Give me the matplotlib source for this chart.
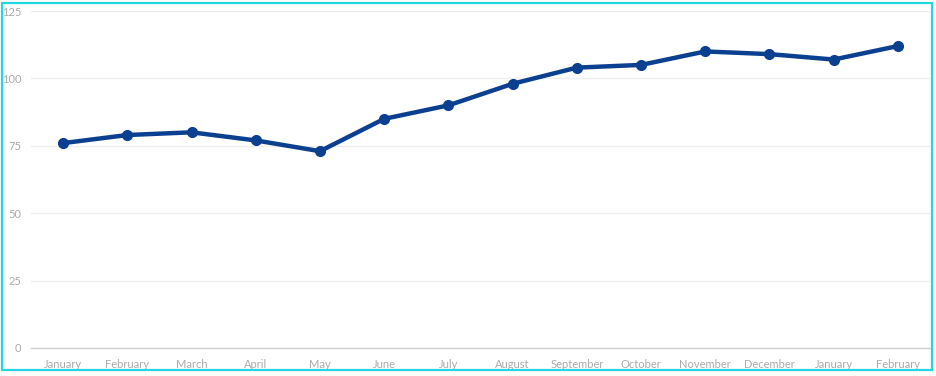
import matplotlib
matplotlib.use("Agg")
import matplotlib.pyplot as plt
from matplotlib.patches import Rectangle

# ─────────────────────────────────────────────
# DATA
# ─────────────────────────────────────────────
MONTHS = ["January", "February", "March", "April", "May", "June", "July",
          "August", "September", "October", "November", "December",
          "January", "February"]
VALUES = [76, 79, 80, 77, 73, 85, 90, 98, 104, 105, 110, 109, 107, 112]
Y_TICKS = [0, 25, 50, 75, 100, 125]

LINE_COLOR = "#0b3f8f"
TEXT_COLOR = "#a9a9a9"
BORDER_COLOR = "#22d6e2"

plt.rcParams["font.family"] = ["Lato", "DejaVu Sans"]

W, H = 937, 376
fig = plt.figure(figsize=(W / 100, H / 100), dpi=100)
ax = fig.add_axes([31 / W, 28 / H, 899 / W, 337 / H])

x = list(range(len(MONTHS)))
ax.plot(x, VALUES, color=LINE_COLOR, linewidth=3.2, marker="o",
        markersize=7, zorder=3)

ax.set_xlim(-0.5, len(MONTHS) - 0.5)
ax.set_ylim(0, 125)
ax.set_yticks(Y_TICKS)
ax.set_xticks(x)
ax.set_xticklabels(MONTHS)

ax.grid(axis="y", color="#eeeeee", linewidth=1)
ax.set_axisbelow(True)
for side in ["top", "right", "left"]:
    ax.spines[side].set_visible(False)
ax.spines["bottom"].set_color("#d0d0d0")
ax.spines["bottom"].set_linewidth(1)

ax.tick_params(axis="both", length=0, labelsize=8, colors=TEXT_COLOR)
ax.tick_params(axis="x", pad=8)
ax.tick_params(axis="y", pad=7)

# cyan frame round the chart
fig.patches.append(Rectangle((2 / W, 6 / H), 930 / W, 367 / H,
                             transform=fig.transFigure, fill=False,
                             edgecolor=BORDER_COLOR, linewidth=1.6))

fig.savefig("out.png", dpi=100)
